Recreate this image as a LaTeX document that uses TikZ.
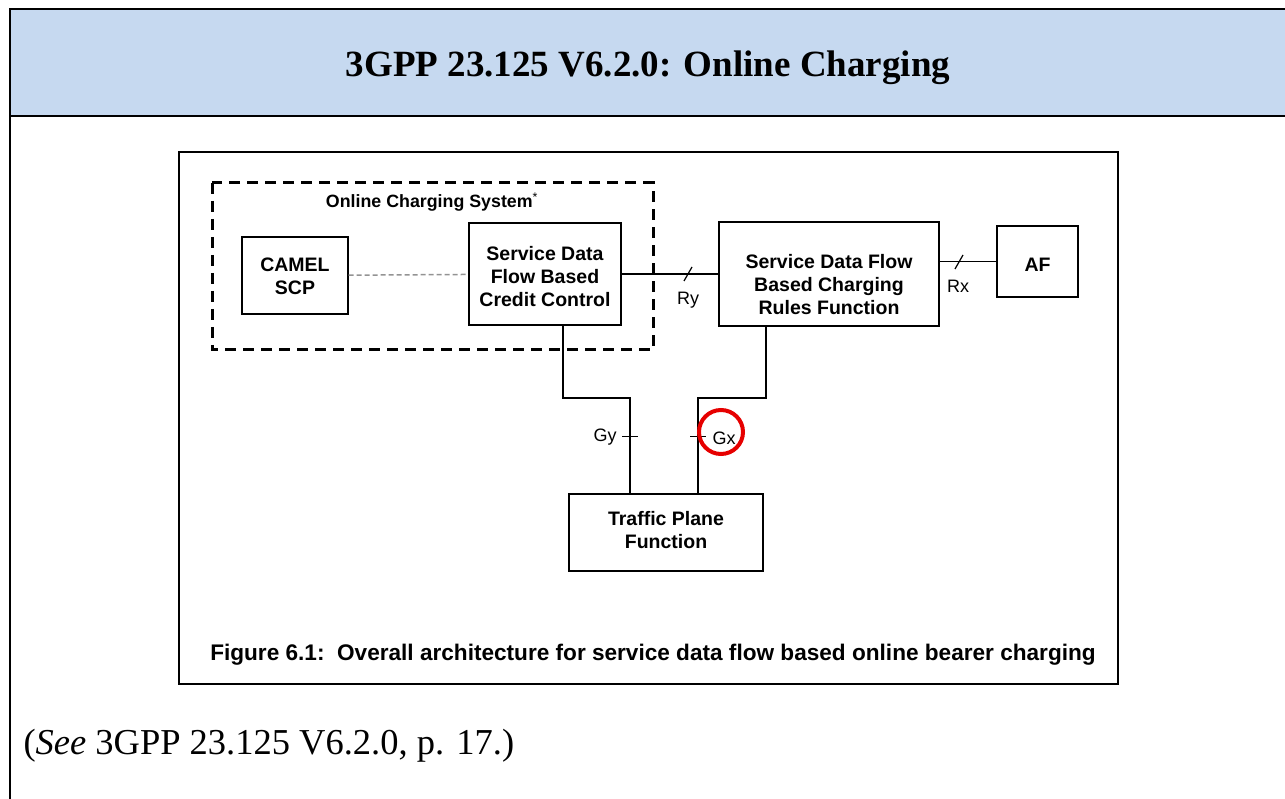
\documentclass[tikz,border=0pt]{standalone}
\usepackage{fontspec}
\setmainfont{Liberation Serif}
\setsansfont{Liberation Sans}
\usetikzlibrary{positioning}
\definecolor{bandblue}{RGB}{198,217,240}
\definecolor{circred}{RGB}{230,0,0}
\tikzset{
  box/.style={draw,line width=1.2pt,align=center,font=\sffamily\bfseries\fontsize{19.5}{23}\selectfont,inner sep=0pt},
  boxlabel/.style={align=center,font=\sffamily\bfseries\fontsize{19.5}{23}\selectfont,inner sep=0pt},
  iface/.style={font=\sffamily\fontsize{18}{20}\selectfont},
  wire/.style={line width=1.2pt}
}
\begin{document}
\begin{tikzpicture}[x=1pt,y=-1pt]
      \useasboundingbox (0,0) rectangle (1285,799);
      % page frame and title band
      \fill[bandblue] (10,9) rectangle (1285,116);
      \draw[line width=2.2pt] (1285,9) -- (10,9) -- (10,799);
      \draw[line width=2.2pt] (10,116) -- (1285,116);
      \node (title) at (648,68) {\bfseries\fontsize{37}{42}\selectfont 3GPP 23.125 V6.2.0: Online Charging};
      \node[anchor=west] (cite) at (20,746) {\fontsize{36.5}{40}\selectfont (\textit{See} 3GPP 23.125 V6.2.0, p. 17.)};
      % figure
      \draw[line width=1.4pt] (179,152) rectangle (1118,684);
      \draw[line width=3pt,dash pattern=on 11pt off 7pt] (212,183) rectangle (653,350);
      \node (ocs) at (432,202) {\sffamily\bfseries\fontsize{17.8}{20}\selectfont Online Charging System\textsuperscript{\mdseries*}};
      \node[box,minimum width=106,minimum height=77,label={[boxlabel,yshift=-1pt]center:CAMEL\\SCP}] (camel) at (295,275.5) {};
      \node[box,minimum width=152,minimum height=102,label={[boxlabel,yshift=-3pt]center:Service Data\\Flow Based\\Credit Control}] (sdfcc) at (545,274) {};
      \node[box,minimum width=220,minimum height=104,label={[boxlabel,yshift=-11pt]center:Service Data Flow\\Based Charging\\Rules Function}] (pcrf) at (829,274) {};
      \node[box,minimum width=81,minimum height=71,label={[boxlabel,yshift=-3pt]center:AF}] (af) at (1037.5,261.5) {};
      \node[box,minimum width=194,minimum height=77,label={[boxlabel,yshift=2pt]center:Traffic Plane\\Function}] (tpf) at (666,532.5) {};
      \node (caption) at (653,655) {\sffamily\bfseries\fontsize{22.6}{25}\selectfont Figure 6.1:\ \ Overall architecture for service data flow based online bearer charging};
      % reference points
      \coordinate (gy1) at (563,398);
      \coordinate (gy2) at (630,398);
      \coordinate (gx1) at (766,398);
      \coordinate (gx2) at (698,398);
      \begin{scope}[wire]
        \draw[gray!85,line width=1.5pt,dash pattern=on 5pt off 3pt] (camel) -- (sdfcc);
        \draw (sdfcc.east) -- (pcrf.west);
        \draw (pcrf.east |- af) -- (af.west);
        \draw (sdfcc.south -| gy1) -- (gy1) -- (gy2) -- (tpf.north -| gy2);
        \draw (pcrf.south -| gx1) -- (gx1) -- (gx2) -- (tpf.north -| gx2);
        \draw (684,281) -- (692,267);
        \draw (955,269) -- (963,255);
        \draw (622,436.5) -- (638,436.5);
        \draw (690,436.5) -- (706,436.5);
      \end{scope}
      \node[iface] (ry) at (688,300) {Ry};
      \node[iface] (rx) at (958,286) {Rx};
      \node[iface] (gy) at (605,437) {Gy};
      \node[iface] (gx) at (724,438) {Gx};
      \draw[circred,line width=4pt] (gx) ++(-3,-6) circle (22);
\end{tikzpicture}
\end{document}
